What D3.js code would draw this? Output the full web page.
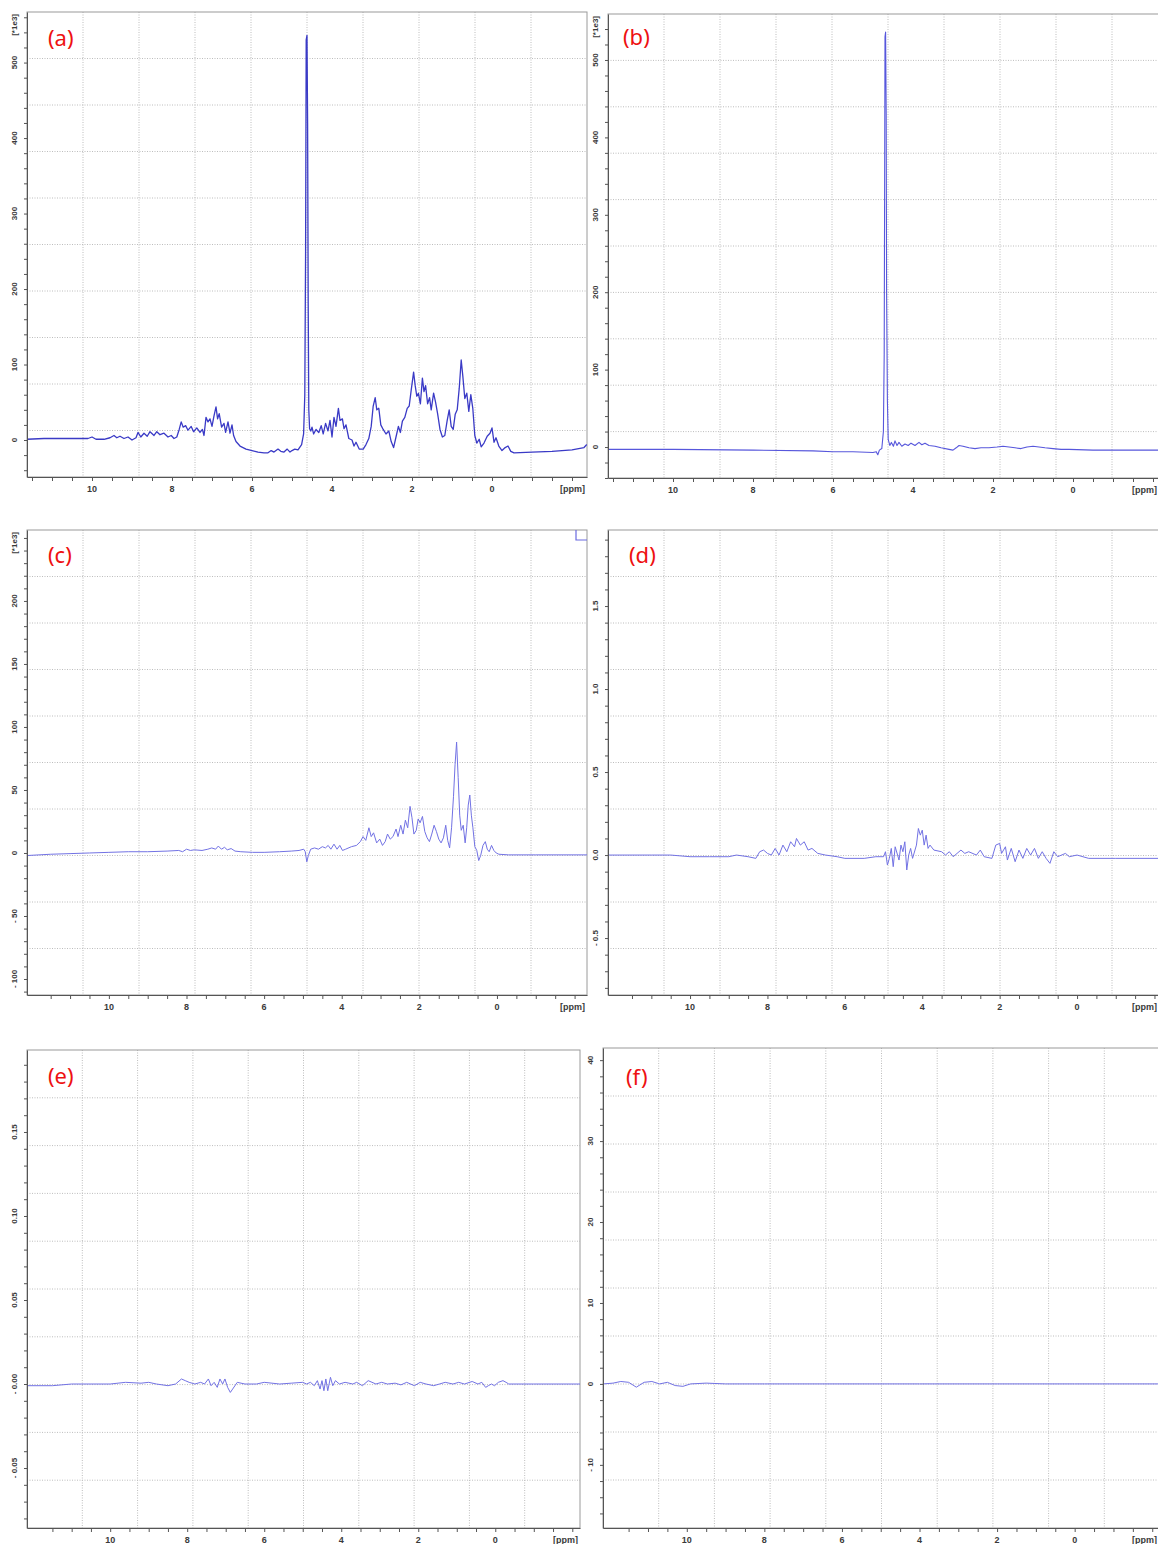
<!DOCTYPE html>
<html>
<head>
<meta charset="utf-8">
<script src="https://cdn.jsdelivr.net/npm/d3@7"></script>
<style>
body { margin: 0; background: #fff; }
svg { display: block; }
.tlabel { font-family: "Liberation Sans", Arial, sans-serif; font-size: 8px; font-weight: bold; fill: #3a3a3a; }
.xlabel { font-family: "Liberation Sans", Arial, sans-serif; font-size: 9px; font-weight: bold; fill: #3a3a3a; }
.tag { font-family: "Noto Sans", sans-serif; font-size: 22px; fill: #ee1111; }
</style>
</head>
<body>
<div id="chart"></div>
<script>
// spectra: [ppm, intensity]
const specA = [[11.62,1],[11.2,2],[10.8,2],[10.4,2],[10.1,2],[10.0,4],[9.9,1],[9.7,1],[9.55,3],[9.45,6],[9.38,3],[9.3,5],[9.2,2],[9.1,4],[9.0,0],[8.9,3],[8.85,10],[8.78,4],[8.7,9],[8.62,5],[8.55,11],[8.45,6],[8.38,11],[8.3,7],[8.2,9],[8.1,4],[8.02,6],[7.95,2],[7.88,4],[7.82,14],[7.77,24],[7.72,17],[7.66,19],[7.6,13],[7.52,18],[7.46,11],[7.38,16],[7.3,10],[7.24,14],[7.2,6],[7.15,30],[7.1,24],[7.05,28],[7.0,18],[6.95,32],[6.9,44],[6.86,28],[6.82,35],[6.76,17],[6.7,22],[6.66,10],[6.6,24],[6.55,9],[6.5,20],[6.46,6],[6.4,-2],[6.3,-8],[6.15,-12],[6.0,-14],[5.85,-16],[5.7,-17],[5.6,-17],[5.52,-14],[5.45,-16],[5.35,-12],[5.28,-15],[5.2,-16],[5.12,-12],[5.05,-16],[5.0,-14],[4.93,-12],[4.85,-13],[4.76,-6],[4.71,8],[4.68,60],[4.66,250],[4.645,530],[4.625,536],[4.61,420],[4.595,180],[4.58,40],[4.56,15],[4.53,12],[4.5,17],[4.46,8],[4.4,14],[4.33,10],[4.27,19],[4.22,8],[4.16,22],[4.1,12],[4.05,26],[4.0,4],[3.95,30],[3.9,18],[3.84,42],[3.8,26],[3.74,28],[3.7,15],[3.65,20],[3.58,2],[3.5,0],[3.45,-8],[3.4,-3],[3.32,-12],[3.22,-12],[3.15,-6],[3.08,2],[3.02,18],[2.97,45],[2.92,56],[2.88,40],[2.83,42],[2.78,20],[2.72,14],[2.65,8],[2.58,12],[2.52,-2],[2.46,-10],[2.4,4],[2.34,18],[2.29,10],[2.24,25],[2.18,30],[2.12,42],[2.07,45],[2.02,66],[1.96,90],[1.92,72],[1.88,58],[1.84,62],[1.79,48],[1.74,82],[1.7,64],[1.66,72],[1.61,48],[1.56,56],[1.52,40],[1.46,62],[1.41,50],[1.36,35],[1.3,14],[1.24,4],[1.18,6],[1.12,26],[1.07,40],[1.02,18],[0.97,14],[0.92,34],[0.87,40],[0.82,68],[0.77,106],[0.73,85],[0.68,55],[0.63,62],[0.58,38],[0.53,60],[0.48,42],[0.43,6],[0.38,-4],[0.32,1],[0.27,-9],[0.2,-4],[0.12,5],[0.05,9],[0.0,16],[-0.05,-3],[-0.1,3],[-0.17,-8],[-0.25,-14],[-0.33,-10],[-0.4,-8],[-0.47,-15],[-0.55,-17],[-1.0,-16],[-1.5,-15],[-2.0,-13],[-2.3,-10],[-2.37,-6]];

const specB = [[11.62,-3],[10,-3],[8,-4],[6.5,-5],[6,-6],[5.5,-6],[5.0,-7],[4.92,-6],[4.88,-10],[4.84,-4],[4.78,-2],[4.74,20],[4.72,120],[4.71,320],[4.70,530],[4.685,536],[4.67,430],[4.66,200],[4.64,60],[4.62,10],[4.58,2],[4.54,6],[4.49,1],[4.45,8],[4.4,2],[4.35,6],[4.28,1],[4.2,4],[4.12,2],[4.05,5],[3.95,2],[3.85,6],[3.78,3],[3.7,5],[3.6,2],[3.45,1],[3.3,-1],[3.1,-3],[3.0,-4],[2.92,-1],[2.85,2],[2.75,1],[2.6,-1],[2.45,-2],[2.3,-1],[2.1,-1],[1.9,0],[1.75,1],[1.6,0],[1.45,-1],[1.3,-2],[1.15,0],[1.0,1],[0.85,0],[0.7,-1],[0.5,-2],[0.3,-3],[0.1,-3],[-0.5,-4],[-1.5,-4],[-2.37,-4]];

const specC = [[12.1,-2],[11.5,-1],[11,-0.5],[10.5,0],[10,0.5],[9.5,1],[9,1],[8.5,1.5],[8.2,2],[8.1,1],[8.0,3],[7.9,2],[7.8,2.5],[7.6,2],[7.45,3],[7.35,4],[7.25,3],[7.18,5.5],[7.1,3],[7.02,4.5],[6.95,2.5],[6.85,3.5],[6.75,1.5],[6.6,1],[6.3,0.5],[6,0.5],[5.6,1],[5.3,1.5],[5.1,2],[4.98,3],[4.94,1],[4.9,-7],[4.86,-2],[4.8,3],[4.7,4],[4.6,3],[4.5,5],[4.42,4],[4.35,6],[4.28,3],[4.2,7],[4.12,3],[4.05,6],[3.98,2],[3.9,3],[3.75,5],[3.62,6],[3.52,9],[3.45,13],[3.38,10],[3.3,20],[3.24,13],[3.18,16],[3.1,8],[3.02,11],[2.95,6],[2.88,9],[2.82,15],[2.75,11],[2.68,13],[2.6,19],[2.55,13],[2.48,22],[2.42,15],[2.36,26],[2.3,20],[2.24,37],[2.19,28],[2.14,15],[2.08,18],[2.03,27],[1.98,24],[1.92,29],[1.86,17],[1.8,12],[1.74,9],[1.68,15],[1.62,22],[1.56,17],[1.5,11],[1.44,8],[1.38,12],[1.32,22],[1.27,10],[1.22,4],[1.17,20],[1.12,45],[1.08,70],[1.04,88],[1.0,60],[0.96,30],[0.92,18],[0.87,22],[0.82,8],[0.78,20],[0.74,38],[0.7,46],[0.66,30],[0.62,20],[0.57,5],[0.52,2],[0.47,-6],[0.42,-2],[0.36,6],[0.3,9],[0.25,3],[0.2,1],[0.14,6],[0.08,2],[0.02,0],[-0.05,-1],[-0.3,-1.5],[-1,-1.5],[-2.32,-1.5]];

const specD = [[12.1,0],[11,0],[10.5,0],[10,-0.01],[9.5,-0.01],[9,-0.01],[8.8,0],[8.5,-0.01],[8.3,-0.02],[8.2,0.02],[8.1,0.03],[8.0,0.01],[7.9,0],[7.8,0.04],[7.7,0],[7.6,0.06],[7.5,0.02],[7.4,0.08],[7.3,0.05],[7.25,0.1],[7.15,0.06],[7.05,0.08],[6.95,0.03],[6.85,0.04],[6.7,0.01],[6.5,0],[6.2,-0.01],[6.0,-0.02],[5.5,-0.02],[5.2,-0.01],[5.0,-0.01],[4.95,0.02],[4.9,-0.06],[4.85,-0.02],[4.8,0.04],[4.75,-0.07],[4.7,0.05],[4.6,-0.03],[4.55,0.06],[4.5,0.02],[4.45,0.08],[4.4,-0.09],[4.35,0],[4.3,0.04],[4.25,-0.02],[4.15,0.06],[4.1,0.16],[4.05,0.12],[4.0,0.15],[3.95,0.06],[3.9,0.12],[3.85,0.04],[3.8,0.06],[3.7,0.03],[3.5,0.02],[3.4,0],[3.3,0.02],[3.2,-0.01],[3.0,0.03],[2.9,0.01],[2.8,0.02],[2.6,0],[2.5,0.03],[2.4,-0.01],[2.2,-0.02],[2.1,0.06],[2.0,0.07],[1.95,0.01],[1.85,0.05],[1.8,-0.03],[1.7,0.04],[1.6,-0.04],[1.5,0.03],[1.4,-0.02],[1.3,0.04],[1.2,0],[1.1,0.04],[1.0,-0.02],[0.9,0.02],[0.8,-0.02],[0.7,-0.05],[0.6,0.02],[0.5,-0.01],[0.3,0.01],[0.2,-0.01],[0,0],[-0.3,-0.02],[-1,-0.02],[-2.3,-0.02]];

const specE = [[12.15,-0.001],[11.5,-0.001],[11,0],[10.5,0],[10,0],[9.6,0.001],[9.2,0.0005],[9,0.001],[8.8,0],[8.5,-0.001],[8.3,0],[8.15,0.003],[8.05,0.002],[7.95,0.001],[7.8,0],[7.65,0.001],[7.55,0],[7.45,0.003],[7.38,-0.001],[7.3,0.001],[7.22,-0.002],[7.15,0.003],[7.08,0],[7.02,0.003],[6.95,-0.002],[6.88,-0.005],[6.82,-0.003],[6.7,0.001],[6.5,0],[6.2,0],[6.0,0.001],[5.6,0],[5.3,0.0005],[5.0,0.001],[4.9,0],[4.8,0.001],[4.7,-0.001],[4.62,0.002],[4.55,-0.003],[4.5,0.002],[4.45,-0.004],[4.4,0.003],[4.35,-0.004],[4.28,0.004],[4.22,-0.001],[4.15,0.002],[4.05,0],[3.9,0.001],[3.7,0],[3.6,0.001],[3.45,-0.001],[3.3,0.002],[3.1,0],[2.95,0.001],[2.8,0],[2.6,0.0005],[2.45,-0.0005],[2.3,0.001],[2.1,-0.001],[1.95,0.001],[1.8,0],[1.6,-0.001],[1.45,0],[1.3,0.001],[1.1,0],[0.95,0.001],[0.8,0],[0.6,0.0015],[0.45,0],[0.35,0.001],[0.25,-0.002],[0.18,-0.001],[0.1,0],[0.02,-0.001],[-0.08,0.001],[-0.2,0.002],[-0.28,0.001],[-0.35,0],[-1,0],[-2.25,0]];

const specF = [[12.15,0],[11.9,0.1],[11.7,0.3],[11.5,0.2],[11.3,-0.4],[11.1,0.2],[10.9,0.3],[10.7,0],[10.5,0.2],[10.3,-0.2],[10.1,-0.3],[9.9,0],[9.5,0.1],[9,0],[8,0],[6,0],[4,0],[2,0],[0,0],[-2.2,0]];

// axis ticks
const xLabelPpm  = [10, 8, 6, 4, 2, 0, -2];
const xLabelText = ["10", "8", "6", "4", "2", "0", "[ppm]"];

const yTicksA = [0, 100, 200, 300, 400, 500];
const yLabelsA = ["0", "100", "200", "300", "400", "500"];
const yTicksC = [-100, -50, 0, 50, 100, 150, 200];
const yLabelsC = ["- 100", "- 50", "0", "50", "100", "150", "200"];
const yTicksD = [-0.5, 0, 0.5, 1.0, 1.5];
const yLabelsD = ["- 0.5", "0.0", "0.5", "1.0", "1.5"];
const yTicksE = [-0.05, 0, 0.05, 0.10, 0.15];
const yLabelsE = ["- 0.05", "- 0.00", "0.05", "0.10", "0.15"];
const yTicksF = [-10, 0, 10, 20, 30, 40];
const yLabelsF = ["- 10", "0", "10", "20", "30", "40"];

const width = 1158, height = 1544;

const svg = d3.select("#chart").append("svg")
   .attr("width", width)
   .attr("height", height);

const panels = [
   {tag: "(a)", left: 27,  top: 12,   w: 560, h: 465, ppm: [11.625, -2.375], yDom: [-49, 567],
    spec: specA, ticks: yTicksA, labels: yLabelsA, minor: 20, unit: "[*1e3]",
    color: "#3a3ac6", lw: 1.3, tagPos: [21, 34]},
   {tag: "(b)", left: 608, top: 14,   w: 560, h: 464, ppm: [11.625, -2.375], yDom: [-40, 559.4],
    spec: specB, ticks: yTicksA, labels: yLabelsA, minor: 20, unit: "[*1e3]",
    color: "#5757dc", lw: 1.1, tagPos: [15, 31]},
   {tag: "(c)", left: 27,  top: 530,  w: 560, h: 465, ppm: [12.11, -2.32], yDom: [-112.7, 256.3],
    spec: specC, ticks: yTicksC, labels: yLabelsC, minor: 10, unit: "[*1e3]",
    color: "#7272e4", lw: 1, tagPos: [21, 33], corner: true},
   {tag: "(d)", left: 608, top: 530,  w: 560, h: 465, ppm: [12.12, -2.35], yDom: [-0.843, 1.958],
    spec: specD, ticks: yTicksD, labels: yLabelsD, minor: 0.1, unit: null,
    color: "#7272e4", lw: 1, tagPos: [21, 33]},
   {tag: "(e)", left: 27,  top: 1050, w: 553, h: 478, ppm: [12.16, -2.2], yDom: [-0.0857, 0.1988],
    spec: specE, ticks: yTicksE, labels: yLabelsE, minor: 0.01, unit: null,
    color: "#7272e4", lw: 1, tagPos: [21, 34]},
   {tag: "(f)", left: 603, top: 1048, w: 557, h: 480, ppm: [12.16, -2.2], yDom: [-17.8, 41.5],
    spec: specF, ticks: yTicksF, labels: yLabelsF, minor: 2, unit: null,
    color: "#7272e4", lw: 1, tagPos: [23, 37]}
];

panels.forEach((p, i) => {
   const g = svg.append("g").attr("transform", `translate(${p.left},${p.top})`);

   const x = d3.scaleLinear().domain(p.ppm).range([0, p.w]);
   const y = d3.scaleLinear().domain(p.yDom).range([p.h, 0]);

   // grid: ten equal divisions of the frame
   const div = d3.range(1, 10);
   g.selectAll("line.vgrid").data(div).enter().append("line")
      .attr("x1", k => k * p.w / 10).attr("x2", k => k * p.w / 10)
      .attr("y1", 0).attr("y2", p.h)
      .attr("stroke", "#bdbdbd").attr("stroke-dasharray", "1,1.5");
   g.selectAll("line.hgrid").data(div).enter().append("line")
      .attr("y1", k => k * p.h / 10).attr("y2", k => k * p.h / 10)
      .attr("x1", 0).attr("x2", p.w)
      .attr("stroke", "#bdbdbd").attr("stroke-dasharray", "1,1.5");

   g.append("rect")
      .attr("width", p.w).attr("height", p.h)
      .attr("fill", "none").attr("stroke", "#9a9a9a");

   // spectrum
   g.append("clipPath").attr("id", "clip" + i)
      .append("rect").attr("width", p.w).attr("height", p.h);

   const line = d3.line()
      .x(d => x(d[0]))
      .y(d => y(d[1]));

   g.append("path")
      .datum(p.spec)
      .attr("clip-path", `url(#clip${i})`)
      .attr("fill", "none")
      .attr("stroke", p.color)
      .attr("stroke-width", p.lw)
      .attr("stroke-linejoin", "round")
      .attr("d", line);

   if (p.corner) {
      g.append("path")
         .attr("d", `M${p.w - 11},0V10H${p.w}`)
         .attr("fill", "none").attr("stroke", "#6a6ae0").attr("stroke-width", 1.2);
   }

   // x axis
   const xAxis = d3.axisBottom(x)
      .tickValues(d3.range(-2, 11.75, 0.5))
      .tickSize(4).tickSizeOuter(0)
      .tickFormat("");
   const gx = g.append("g").attr("transform", `translate(0,${p.h})`).call(xAxis);
   gx.select(".domain").attr("stroke", "#555");
   gx.selectAll(".tick line").attr("stroke", "#555");

   // keep the unit label inside the page when the frame runs past the edge
   const unitEnd = Math.min(p.w - 2, width - 1 - p.left);
   g.selectAll("text.xl").data(xLabelPpm).enter().append("text")
      .attr("class", "xlabel")
      .attr("x", d => d === -2 ? unitEnd : x(d))
      .attr("y", p.h + 15)
      .style("text-anchor", d => d === -2 ? "end" : "middle")
      .text((d, k) => xLabelText[k]);

   // y axis
   const lo = Math.ceil(p.yDom[0] / p.minor), hi = Math.floor(p.yDom[1] / p.minor);
   const minorTicks = d3.range(lo, hi + 1).map(k => k * p.minor);
   const yAxis = d3.axisLeft(y)
      .tickValues(minorTicks)
      .tickSize(3).tickSizeOuter(0)
      .tickFormat("");
   const gy = g.append("g").call(yAxis);
   gy.select(".domain").attr("stroke", "#555");
   gy.selectAll(".tick line").attr("stroke", "#555");

   g.selectAll("text.yl").data(p.ticks).enter().append("text")
      .attr("class", "tlabel")
      .attr("transform", d => `translate(-13,${y(d)}) rotate(-90)`)
      .attr("dy", "0.35em")
      .style("text-anchor", "middle")
      .text((d, k) => p.labels[k]);

   if (p.unit) {
      g.append("text")
         .attr("class", "tlabel")
         .attr("transform", `translate(-13,${2}) rotate(-90)`)
         .attr("dy", "0.35em")
         .style("text-anchor", "end")
         .text(p.unit);
   }

   g.append("text")
      .attr("class", "tag")
      .attr("x", p.tagPos[0])
      .attr("y", p.tagPos[1])
      .text(p.tag);
});
</script>
</body>
</html>
